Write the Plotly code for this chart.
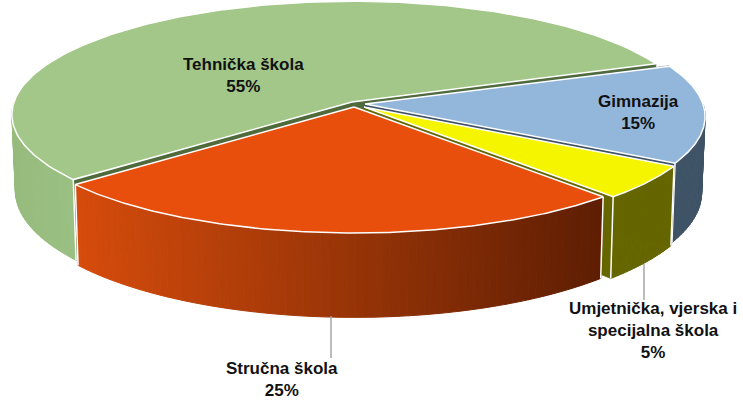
import numpy as np
import plotly.graph_objects as go

categories = ["Gimnazija", "Umjetnička, vjerska i<br>specijalna škola", "Stručna škola", "Tehnička škola"]
shares = [15, 5, 25, 55]

START = -20.8
WARP = 4.0  # perspective distortion of the slice angles
A, B, PERSP, DEPTH, SHRINK = 338.0, 112.0, 9.0, 75.0, 0.99
APEX = [(365, 104), (364, 107), (354, 107), (352, 102)]
TOP = ["#93b7db", "#f5f500", "#e84e0c", "#a2c789"]
CUT = ["#3f5367", "#666600", "#5e1d02", "#4f6b3c"]
WALL_L = [(63, 83, 103), (102, 102, 0), (214, 76, 12), (150, 187, 125)]
WALL_R = [(63, 83, 103), (102, 102, 0), (94, 30, 3), (155, 192, 131)]


def proj(theta, apex, r=1.0, base=False):
    t = np.radians(theta)
    u, v = r * np.cos(t), r * np.sin(t)
    s = 1 / (1 - v / PERSP)
    x = apex[0] + A * u * s
    y = apex[1] + B * v * s
    if base:
        x = apex[0] + (x - apex[0]) * SHRINK
        y = y + DEPTH * s
    return x, y


def poly(xs, ys, fill, line=None, width=1.0):
    xs, ys = np.append(xs, xs[0]), np.append(ys, ys[0])
    return go.Scatter(x=xs, y=ys, mode="lines", fill="toself", fillcolor=fill,
                      line=dict(color=line or fill, width=width), hoverinfo="skip", showlegend=False)


fig = go.Figure()
nominal = np.cumsum([0] + shares) * 3.6
edges = START + nominal - WARP * np.sin(np.radians(nominal))
order = [3, 0, 1, 2]
for i in order:
    a0, a1, ap = edges[i], edges[i + 1], APEX[i]
    # cut faces
    for ang in (a0, a1):
        x1, y1 = proj(ang, ap)
        x2, y2 = proj(ang, ap, base=True)
        ax, ay = ap
        fig.add_trace(poly(np.array([ax, x1, x2, ax]), np.array([ay, y1, y2, ay + DEPTH]), CUT[i], width=0.5))
    # rim wall (only the part facing the viewer)
    w0, w1 = max(a0, 0), min(a1, 180)
    if w1 > w0:
        n = 70 if i == 2 else 24
        th = np.linspace(w0, w1, n + 1)
        xa = proj(th, ap)[0]
        xmin, xmax = xa.min(), xa.max()
        for k in range(n):
            seg = np.linspace(th[k], th[k + 1], 3)
            xt, yt = proj(seg, ap)
            xb, yb = proj(seg[::-1], ap, base=True)
            f = (xt.mean() - xmin) / (xmax - xmin)
            c = [round(WALL_L[i][j] + (WALL_R[i][j] - WALL_L[i][j]) * f) for j in range(3)]
            col = f"rgb({c[0]},{c[1]},{c[2]})"
            fig.add_trace(poly(np.r_[xt, xb], np.r_[yt, yb], col))
        for ang in (w0, w1):
            if 0 < ang < 180:
                x1, y1 = proj(ang, ap)
                x2, y2 = proj(ang, ap, base=True)
                fig.add_trace(go.Scatter(x=[x1, x2], y=[y1, y2], mode="lines", line=dict(color="white", width=1.5),
                                         hoverinfo="skip", showlegend=False))
    # top face
    th = np.linspace(a0, a1, 160)
    xt, yt = proj(th, ap)
    fig.add_trace(poly(np.r_[ap[0], xt], np.r_[ap[1], yt], TOP[i], line="white", width=1.5))

shapes = [
    dict(type="line", xref="x", yref="y", x0=331, x1=331, y0=316, y1=358, line=dict(color="#a6a6a6", width=1.5)),
    dict(type="line", xref="x", yref="y", x0=644, x1=644, y0=264, y1=300, line=dict(color="#a6a6a6", width=1.5)),
]
LABEL_POS = [(638, 112), (653, 330), (282, 379), (243, 75)]
labels = [f"{c}<br>{s}%" for c, s in zip(categories, shares)]
annotations = [
    dict(x=p[0], y=p[1], xref="x", yref="y", text=t, showarrow=False, align="center",
         font=dict(family="Liberation Sans", size=17, color="#111111"))
    for p, t in zip(LABEL_POS, [f"<b>{l.replace('<br>', '</b><br><b>')}</b>" for l in labels])
]

fig.update_layout(
    width=743, height=400, margin=dict(l=0, r=0, t=0, b=0),
    paper_bgcolor="white", plot_bgcolor="white", showlegend=False,
    xaxis=dict(range=[0, 743], visible=False, fixedrange=True),
    yaxis=dict(range=[400, 0], visible=False, fixedrange=True),
    shapes=shapes, annotations=annotations,
)
fig.write_html("out.html", config={"displayModeBar": False},
               post_script="document.body.style.margin='0';document.documentElement.style.overflow='hidden';")
